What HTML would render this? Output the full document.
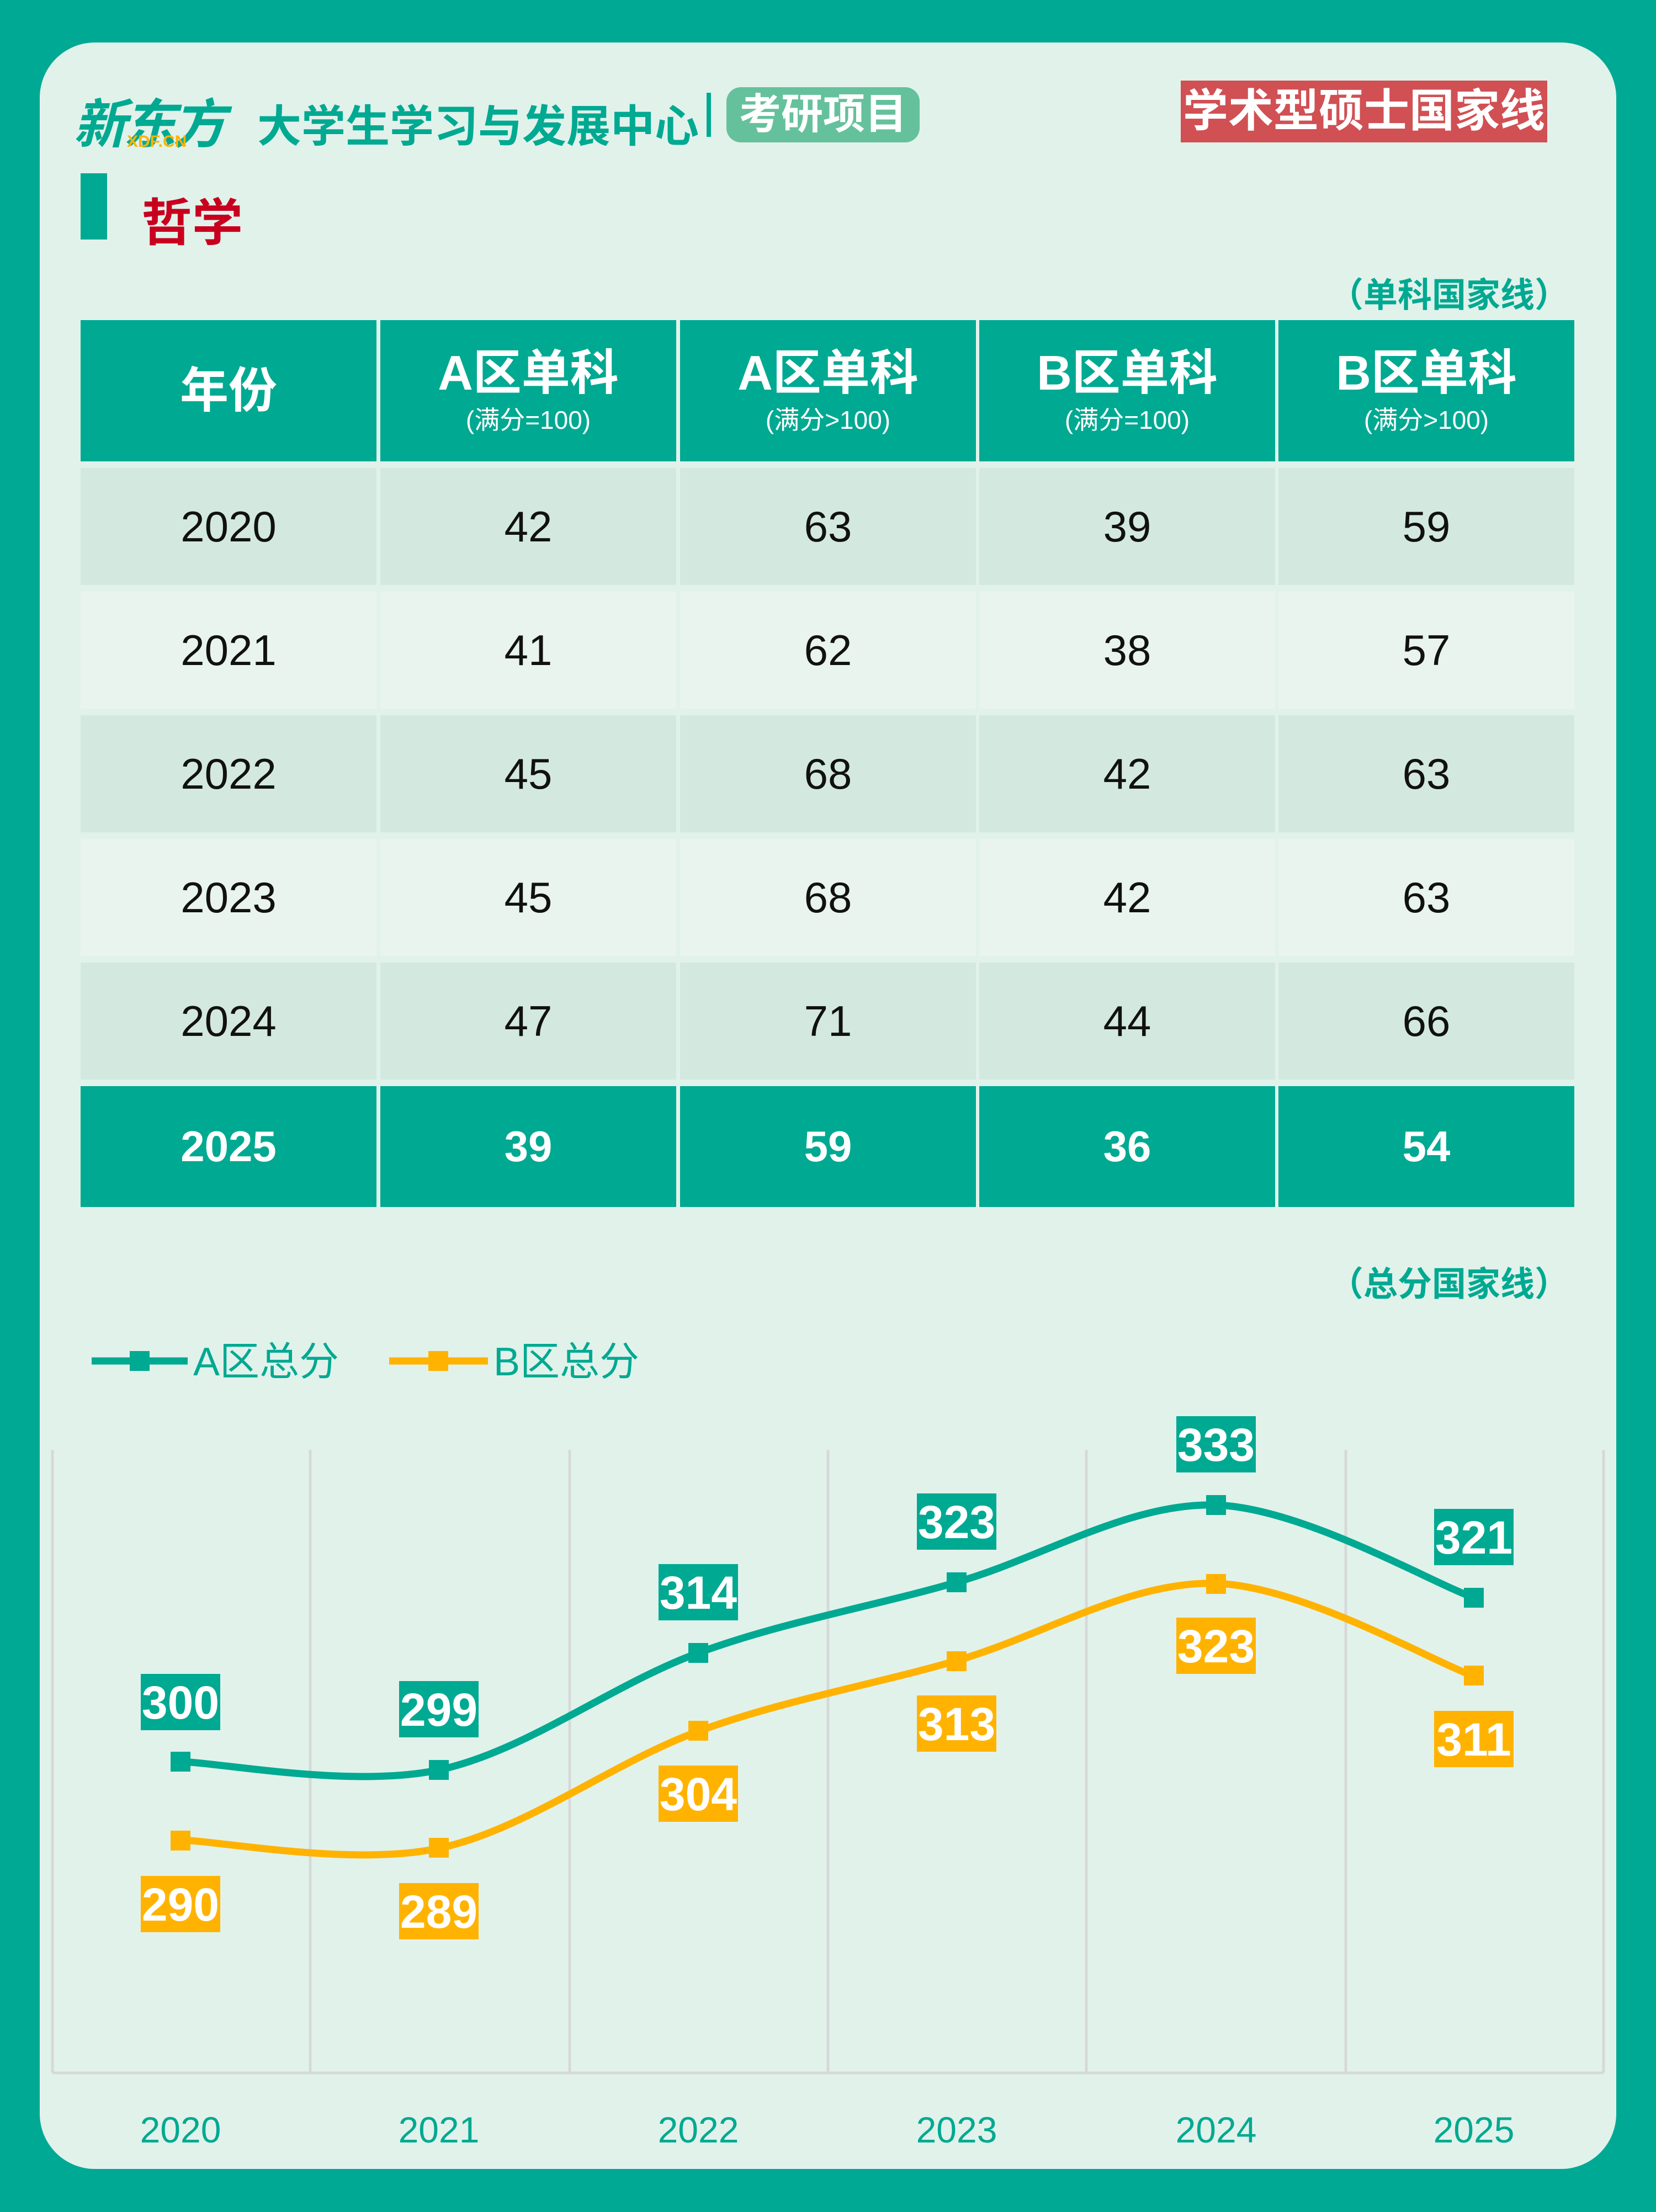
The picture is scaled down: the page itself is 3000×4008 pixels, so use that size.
<!DOCTYPE html>
<html><head><meta charset="utf-8"><style>
*{margin:0;padding:0;box-sizing:border-box}
body{width:3000px;height:4008px;background:#00a994;position:relative;overflow:hidden;font-family:"Liberation Sans","Noto Sans CJK SC",sans-serif}
.card{position:absolute;left:72px;top:77px;width:2856px;height:3853px;background:#e1f2eb;border-radius:100px}
.a{position:absolute;white-space:nowrap}
.cell{position:absolute;display:flex;flex-direction:column;align-items:center;justify-content:center;color:#111;font-size:78px}
.hd{background:#00a991;color:#fff;font-weight:bold;font-size:88px;line-height:1}
.hd small{font-size:46px;font-weight:normal;margin-top:18px}
</style></head><body>
<div class="card"></div>
<div class="a" style="left:133px;top:148px;font-size:96px;font-weight:bold;font-style:italic;color:#00a991;letter-spacing:-6px">新东方</div>
<div class="a" style="left:230px;top:240px;font-size:30px;font-weight:bold;color:#ffb300">XDF.CN</div>
<div class="a" style="left:466px;top:165px;font-size:80px;font-weight:bold;color:#00a991">大学生学习与发展中心</div>
<div class="a" style="left:1280px;top:168px;width:8px;height:80px;background:#00a991"></div>
<div class="a" style="left:1316px;top:158px;width:350px;height:100px;background:#65c19c;border-radius:26px;color:#fff;font-size:76px;font-weight:bold;text-align:center;line-height:100px">考研项目</div>
<div class="a" style="left:2139px;top:146px;width:664px;height:112px;background:#d05054;color:#fff;font-size:82px;font-weight:bold;text-align:center;line-height:112px">学术型硕士国家线</div>
<div class="a" style="left:146px;top:314px;width:48px;height:120px;background:#00a991"></div>
<div class="a" style="left:256px;top:330px;font-size:92px;font-weight:bold;color:#c8001e">哲学</div>
<div class="a" style="right:158px;top:484px;font-size:62px;font-weight:bold;color:#00a991">（单科国家线）</div>
<div class="a" style="right:158px;top:2276px;font-size:62px;font-weight:bold;color:#00a991">（总分国家线）</div>

<div class="cell hd" style="left:146px;top:580px;width:536px;height:256px">年份</div>
<div class="cell hd" style="left:689px;top:580px;width:536px;height:256px">A区单科<small>(满分=100)</small></div>
<div class="cell hd" style="left:1232px;top:580px;width:536px;height:256px">A区单科<small>(满分&gt;100)</small></div>
<div class="cell hd" style="left:1774px;top:580px;width:536px;height:256px">B区单科<small>(满分=100)</small></div>
<div class="cell hd" style="left:2316px;top:580px;width:536px;height:256px">B区单科<small>(满分&gt;100)</small></div>
<div id="rows"></div>
<script>
var d=[["2020",42,63,39,59],["2021",41,62,38,57],["2022",45,68,42,63],["2023",45,68,42,63],["2024",47,71,44,66],["2025",39,59,36,54]];
var xs=[146,689,1232,1774,2316],h="";
for(var r=0;r<6;r++){var ty=848+r*224,last=r==5;
var bg=last?"#00a991":(r%2==0?"#d3e9e0":"#e9f4ef");
for(var c=0;c<5;c++){h+='<div class="cell" style="left:'+xs[c]+'px;top:'+(last?1968:ty)+'px;width:536px;height:'+(last?219:212)+'px;background:'+bg+';'+(last?'color:#fff;font-weight:bold;':'')+'">'+d[r][c]+'</div>';}}
document.getElementById("rows").innerHTML=h;
</script>

<svg class="a" style="left:0;top:0" width="3000" height="4008">
<g stroke="#d6d9d8" stroke-width="5" fill="none">
<line x1="95" y1="2627" x2="95" y2="3756"/><line x1="562" y1="2627" x2="562" y2="3756"/><line x1="1032" y1="2627" x2="1032" y2="3756"/><line x1="1500" y1="2627" x2="1500" y2="3756"/><line x1="1968" y1="2627" x2="1968" y2="3756"/><line x1="2438" y1="2627" x2="2438" y2="3756"/><line x1="2905" y1="2627" x2="2905" y2="3756"/>
<line x1="95" y1="3756" x2="2905" y2="3756"/>
</g>
<line x1="166" y1="2466" x2="340" y2="2466" stroke="#00a991" stroke-width="13"/><rect x="235" y="2448" width="36" height="36" fill="#00a991"/>
<text x="350" y="2492" font-size="72" fill="#00a991">A区总分</text>
<line x1="705" y1="2466" x2="884" y2="2466" stroke="#ffb300" stroke-width="13"/><rect x="776" y="2448" width="36" height="36" fill="#ffb300"/>
<text x="894" y="2492" font-size="72" fill="#00a991">B区总分</text>
<path d="M327 3192 C405 3194.5 639 3240 795 3207 C951 3174 1109 3052 1265 2995 C1421 2938 1577 2912 1733 2867 C1889 2822 2047 2722 2203 2727 C2359 2732 2592 2867 2670 2895" stroke="#00a991" stroke-width="13" fill="none"/>
<path d="M327 3192 C405 3194.5 639 3240 795 3207 C951 3174 1109 3052 1265 2995 C1421 2938 1577 2912 1733 2867 C1889 2822 2047 2722 2203 2727 C2359 2732 2592 2867 2670 2895" transform="translate(0,142)" stroke="#ffb300" stroke-width="13" fill="none"/>
<g id="pts"></g>
<g font-size="66" fill="#00a991" text-anchor="middle">
<text x="327" y="3882">2020</text><text x="795" y="3882">2021</text><text x="1265" y="3882">2022</text><text x="1733" y="3882">2023</text><text x="2203" y="3882">2024</text><text x="2670" y="3882">2025</text>
</g>
</svg>
<script>
var X=[327,795,1265,1733,2203,2670],A=[3192,3207,2995,2867,2727,2895],B=[3335,3348,3136,3010,2870,3036];
var av=[300,299,314,323,333,321],bv=[290,289,304,313,323,311];
var la=[3084,3097,2885,2757,2617,2785],lb=[3450,3463,3250,3123,2982,3151],s="";
for(var i=0;i<6;i++){
s+='<rect x="'+(X[i]-18)+'" y="'+(A[i]-18)+'" width="36" height="36" fill="#00a991"/>';
s+='<rect x="'+(X[i]-18)+'" y="'+(B[i]-18)+'" width="36" height="36" fill="#ffb300"/>';
s+='<rect x="'+(X[i]-72)+'" y="'+(la[i]-51)+'" width="144" height="102" fill="#00a991"/><text x="'+X[i]+'" y="'+(la[i]+30)+'" font-size="84" font-weight="bold" fill="#fff" text-anchor="middle">'+av[i]+'</text>';
s+='<rect x="'+(X[i]-72)+'" y="'+(lb[i]-51)+'" width="144" height="102" fill="#ffb300"/><text x="'+X[i]+'" y="'+(lb[i]+30)+'" font-size="84" font-weight="bold" fill="#fff" text-anchor="middle">'+bv[i]+'</text>';}
document.getElementById("pts").innerHTML=s;
</script>
</body></html>
